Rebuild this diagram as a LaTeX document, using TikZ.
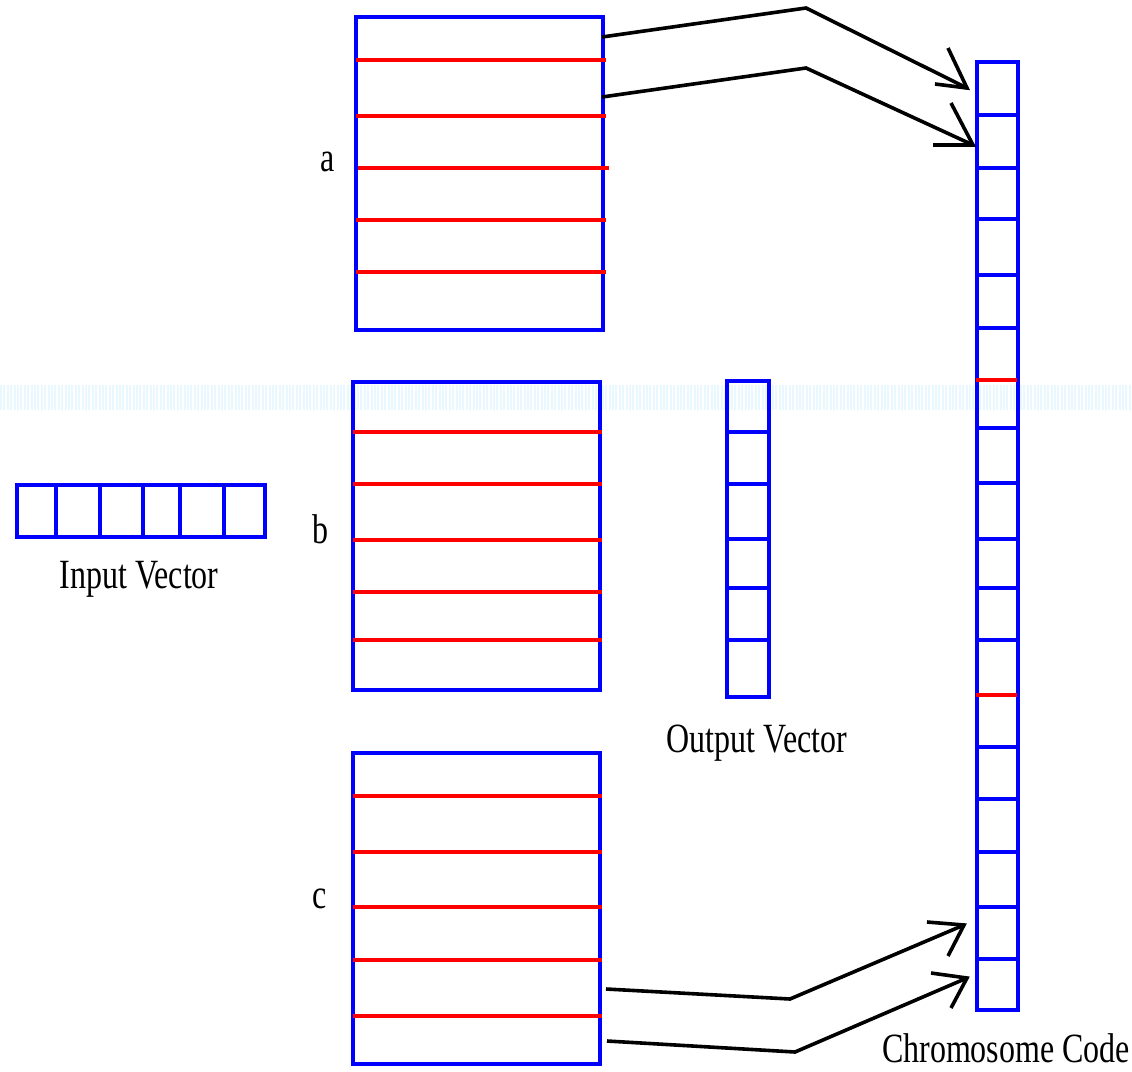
\documentclass[tikz,border=0pt]{standalone}
\usepackage{fontspec}
\setmainfont{Liberation Serif}
\begin{document}
\begin{tikzpicture}[x=1pt,y=-1pt,
  bl/.style={draw=blue, line width=3.6pt},
  rd/.style={draw=red, line width=3.3pt},
  boxnode/.style={bl, rectangle, inner sep=0pt, anchor=north west},
  ar/.style={draw=black, line width=3.6pt, line join=miter},
  barb/.style={draw=black, line width=3.6pt, line cap=butt},
  lbl/.style={font=\fontsize{32}{32}\selectfont, anchor=base, inner sep=0pt}]
\useasboundingbox (0,0) rectangle (1132,1071);
\fill[white] (0,0) rectangle (1132,1071);
% faint scan artifact band
\draw[cyan!9, line width=25pt, dash pattern=on 2pt off 1.4pt] (0,397) -- (1132,397);

% box a
\node[boxnode, minimum width=247pt, minimum height=313pt] (A) at (354,15) {};
\foreach \y/\xa/\xb in {60/356/606,116/356/606,168/358/609,220/356/606,272/356/606}
  \draw[rd] (\xa,\y) -- (\xb,\y);
% box b
\node[boxnode, minimum width=247pt, minimum height=308pt] (B) at (351,380) {};
\foreach \y in {432,484,540,592,640}
  \draw[rd] (353,\y) -- (602,\y);
% box c
\node[boxnode, minimum width=247pt, minimum height=311pt] (Cb) at (351,751) {};
\foreach \y in {796,852,907,960,1016}
  \draw[rd] (353,\y) -- (602,\y);

% labels a b c
\node[lbl] (la) at (328,171) {\scalebox{1}[1.3]{a}};
\node[lbl] (lb) at (320,543) {\scalebox{1}[1.3]{b}};
\node[lbl] (lc) at (320,908) {\scalebox{1}[1.3]{c}};

% input vector
\node[boxnode, minimum width=248pt, minimum height=52pt] (IV) at (15,483) {};
\foreach \x in {56,100,143,180,224}
  \draw[bl] (\x,483) -- (\x,538);
\node[lbl] (liv) at (139,588) {\scalebox{1}[1.3]{Input Vector}};

% output vector
\node[boxnode, minimum width=42pt, minimum height=316pt] (OV) at (725,379) {};
\foreach \y in {432,484,539,588,640}
  \draw[bl] (725,\y) -- (767,\y);
\node[lbl] (lov) at (757,752) {\scalebox{1}[1.3]{Output Vector}};

% chromosome code
\node[boxnode, minimum width=41pt, minimum height=948pt] (CC) at (975,60) {};
\foreach \y in {115,168,219,275,328,428,483,539,588,640,747,799,852,907,959}
  \draw[bl] (975,\y) -- (1016,\y);
\foreach \y in {380,695}
  \draw[rd] (976,\y) -- (1017,\y);
\node[lbl] (lcc) at (1006,1062) {\scalebox{1}[1.3]{Chromosome Code}};

% arrows
\coordinate (s1) at (602,37);  \coordinate (p1) at (806,8);    \coordinate (t1) at (967,88);
\coordinate (s2) at (602,97);  \coordinate (p2) at (806,68);   \coordinate (t2) at (973,145);
\coordinate (s3) at (606,989); \coordinate (p3) at (790,999);  \coordinate (t3) at (964,925);
\coordinate (s4) at (607,1041);\coordinate (p4) at (795,1052); \coordinate (t4) at (967,978);

\draw[ar] (s1) -- (p1) -- (t1);
\draw[barb] (948,48) -- (t1) -- (935,84);
\draw[ar] (s2) -- (p2) -- (t2);
\draw[barb] (951,103) -- (t2) -- (933,145);
\draw[ar] (s3) -- (p3) -- (t3);
\draw[barb] (927,922) -- (t3) -- (948,956);
\draw[ar] (s4) -- (p4) -- (t4);
\draw[barb] (931,973) -- (t4) -- (951,1008);
\end{tikzpicture}
\end{document}
